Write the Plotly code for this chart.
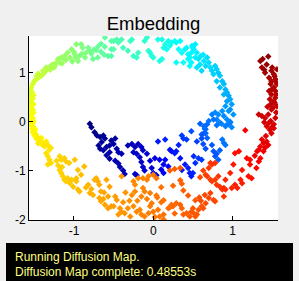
import plotly.graph_objects as go

# ---- data ----
navy_x = [-0.80,-0.78,-0.74,-0.71,-0.67,-0.63,-0.61,-0.65,-0.69,-0.67,-0.63,-0.59,-0.55,-0.53,-0.48,-0.50,-0.55,-0.59,-0.55,-0.48,-0.44,-0.42,-0.38,-0.36,-0.46,-0.44,-0.40,-0.32,-0.27,-0.23,-0.25,-0.21,-0.17,-0.15,-0.13,-0.11,-0.19,-0.15,-0.13,-0.08,-0.23,-0.21,-0.04,-0.02,0.00,0.02,0.04]
navy_y = [-0.05,-0.12,-0.22,-0.29,-0.32,-0.29,-0.35,-0.42,-0.49,-0.56,-0.59,-0.52,-0.49,-0.39,-0.35,-0.46,-0.63,-0.69,-0.76,-0.80,-0.86,-0.93,-1.00,-1.07,-0.56,-0.63,-0.66,-0.49,-0.46,-0.52,-0.63,-0.66,-0.73,-0.83,-0.93,-1.00,-0.46,-0.52,-0.59,-0.66,-1.07,-1.10,-0.80,-0.95,-1.05,-0.75,-1.10]
navy_c = [0.00,0.00,0.01,0.01,0.02,0.02,0.02,0.02,0.02,0.03,0.03,0.03,0.03,0.03,0.03,0.04,0.04,0.04,0.04,0.05,0.05,0.05,0.05,0.06,0.04,0.05,0.05,0.05,0.06,0.06,0.06,0.07,0.07,0.07,0.08,0.08,0.06,0.07,0.07,0.08,0.07,0.07,0.09,0.09,0.10,0.09,0.10]

blue_x = [0.06,0.15,0.08,0.13,0.15,0.19,0.21,0.23,0.27,0.29,0.34,0.32,0.36,0.38,0.42,0.48,0.36,0.40,0.44,0.46,0.48,0.50,0.13,0.10,0.51,0.57,0.53,0.61,0.66,0.59,0.55,0.61,0.63,0.65,0.63,0.61,0.66,0.68,0.74,0.76,0.78,0.80,0.82,0.84,0.87,0.89,0.91,0.80,0.86,0.92,0.97,0.99]
blue_y = [-0.41,-0.37,-0.78,-0.88,-0.78,-0.92,-0.58,-0.61,-0.65,-0.61,-0.75,-0.48,-0.29,-0.35,-0.37,-0.20,-0.99,-0.88,-0.95,-1.05,-1.12,-1.05,-1.05,-0.98,-0.71,-0.75,-0.85,-0.78,-0.56,-0.05,-0.41,-0.27,-0.25,-0.15,-0.46,-0.35,-0.24,-0.34,-0.48,-0.61,-0.71,-0.66,-0.78,-0.59,-0.37,-0.44,-0.48,-0.08,-0.05,-0.08,-0.01,-0.12]
blue_c = [0.15,0.16,0.11,0.11,0.12,0.12,0.14,0.14,0.15,0.15,0.14,0.16,0.18,0.18,0.18,0.20,0.14,0.15,0.15,0.15,0.15,0.16,0.11,0.11,0.17,0.18,0.17,0.18,0.20,0.22,0.19,0.21,0.21,0.22,0.20,0.20,0.22,0.22,0.21,0.21,0.21,0.21,0.22,0.22,0.24,0.24,0.24,0.24,0.25,0.25,0.26,0.26]

side_x = [0.78,0.82,0.87,0.89,0.93,0.95,0.97,0.91,0.84,0.80,0.74,0.76,0.68,0.64,0.66,0.70,
          0.99,0.97,1.01,0.93,0.91,0.89,0.95,0.84,0.80,0.97,0.95,0.93,0.91,0.89,0.87,0.84,0.82,0.80,0.78,0.76,0.74,0.72,0.70,0.68,0.66,0.64,0.61,0.59,0.57,0.55,0.53,0.55,0.51,0.49]
side_y = [0.18,0.14,0.21,0.11,0.04,-0.06,-0.03,-0.10,-0.03,0.04,0.14,0.04,-0.06,-0.10,-0.16,0.01,
          0.35,0.24,0.14,0.41,0.31,0.55,0.21,0.69,0.82,0.45,0.52,0.59,0.65,0.76,0.82,0.93,0.99,1.06,1.13,0.96,1.03,1.10,1.20,1.30,1.13,1.23,1.03,1.16,1.27,1.10,1.30,1.40,1.47,1.54]
side_c = [0.26,0.26,0.27,0.26,0.26,0.25,0.25,0.25,0.25,0.25,0.25,0.24,0.23,0.23,0.23,0.24,
          0.28,0.27,0.27,0.28,0.28,0.30,0.27,0.31,0.32,0.29,0.29,0.30,0.30,0.31,0.31,0.32,0.32,0.33,0.33,0.33,0.33,0.34,0.34,0.34,0.34,0.35,0.34,0.35,0.35,0.35,0.36,0.36,0.36,0.36]

top_x = [-0.50,-0.46,-0.44,-0.40,-0.38,-0.32,-0.29,-0.27,-0.25,-0.21,-0.19,-0.11,-0.08,-0.06,-0.04,-0.02,0.00,0.06,0.11,0.13,0.15,0.17,0.19,0.21,0.23,0.27,0.29,0.32,0.34,0.36,0.40,0.42,0.44,0.44,0.46,0.48,0.50,0.53,0.48,0.46,0.38,0.29,0.11,0.08,-0.53,-0.50,0.60,0.63]
top_y = [1.64,1.67,1.61,1.67,1.50,1.44,1.64,1.67,1.33,1.30,1.40,1.64,1.71,1.44,1.40,1.33,1.30,1.67,1.67,1.50,1.57,1.47,1.64,1.54,1.61,1.64,1.61,1.47,1.64,1.40,1.47,1.50,1.37,1.27,1.30,1.40,1.50,1.57,1.20,1.13,1.20,1.20,1.27,1.23,1.33,1.47,1.33,1.36]
top_c = [0.455,0.45,0.45,0.45,0.44,0.44,0.44,0.43,0.43,0.43,0.43,0.42,0.42,0.42,0.41,0.41,0.41,0.40,0.40,0.40,0.40,0.39,0.39,0.39,0.39,0.39,0.38,0.38,0.38,0.38,0.37,0.37,0.37,0.37,0.37,0.37,0.36,0.36,0.37,0.37,0.38,0.38,0.40,0.40,0.46,0.46,0.355,0.355]

green_x = [-0.61,-0.53,-0.61,-0.53,-0.57,-0.70,-0.76,-0.80,-0.89,-0.91,-0.97,-1.03,-0.99,-0.93,-0.95,-1.08,-1.12,-1.16,-1.20,-1.22,-1.26,-1.31,-1.35,-1.39,-1.41,-1.45,-1.50,-1.52,-1.54,
           -1.30,-1.25,-1.18,-1.10,-1.05,-0.98,-0.90,-0.85,-0.78,-0.72,-0.66,-0.62,-1.45,-1.48,-1.38,-1.28,-1.15,-1.02,-0.86,-0.70,-0.66,-0.75,-1.36,-1.43,-1.47,-1.33,-1.24,-1.13,-1.00,-0.82]
green_y = [1.71,1.64,1.52,1.47,1.33,1.30,1.27,1.44,1.50,1.57,1.57,1.47,1.37,1.33,1.23,1.40,1.33,1.30,1.27,1.20,1.16,1.10,1.10,1.03,0.93,0.89,0.82,0.76,0.69,
           1.05,1.10,1.20,1.25,1.30,1.30,1.38,1.40,1.38,1.45,1.42,1.36,0.97,0.86,0.98,1.15,1.18,1.22,1.30,1.52,1.58,1.46,1.02,0.92,0.93,1.08,1.14,1.28,1.42,1.50]
green_c = [0.47,0.46,0.47,0.46,0.46,0.48,0.48,0.49,0.50,0.50,0.51,0.51,0.51,0.50,0.51,0.52,0.52,0.53,0.53,0.54,0.54,0.55,0.55,0.56,0.57,0.57,0.58,0.58,0.59,
           0.55,0.54,0.53,0.52,0.52,0.51,0.50,0.50,0.49,0.48,0.47,0.47,0.57,0.58,0.56,0.54,0.53,0.51,0.50,0.48,0.47,0.48,0.56,0.57,0.57,0.55,0.54,0.52,0.51,0.49]

yel_x = [-1.55,-1.53,-1.56,-1.54,-1.52,-1.55,-1.53,-1.56,-1.54,-1.52,-1.56,-1.53,-1.55,-1.52,-1.54,-1.56,-1.52,-1.54,-1.51,-1.53,-1.50,-1.52,-1.48,-1.50,-1.46,-1.47,-1.44,-1.42,-1.45,-1.40,
         -1.56,-1.51,-1.55,-1.51,-1.55,-1.51,-1.54,-1.51,-1.55,-1.49,-1.39,-1.35,-1.37,-1.33,-1.31,-1.29,-1.35,-1.33,-1.31,-1.29,-1.33,-1.41,-1.43]
yel_y = [0.65,0.60,0.55,0.50,0.46,0.42,0.37,0.33,0.28,0.24,0.20,0.15,0.11,0.07,0.03,-0.01,-0.04,-0.08,-0.12,-0.15,-0.19,-0.22,-0.26,-0.29,-0.32,-0.36,-0.39,-0.43,-0.45,-0.47,
         0.62,0.53,0.45,0.35,0.25,0.18,0.13,0.00,-0.05,-0.16,-0.44,-0.41,-0.51,-0.48,-0.58,-0.54,-0.65,-0.71,-0.78,-0.85,-0.88,-0.34,-0.41]
yel_c = [0.59,0.595,0.60,0.60,0.60,0.605,0.61,0.61,0.61,0.61,0.615,0.615,0.62,0.62,0.62,0.625,0.625,0.63,0.63,0.63,0.63,0.635,0.635,0.635,0.64,0.64,0.64,0.645,0.645,0.645,
         0.59,0.60,0.60,0.61,0.61,0.615,0.62,0.625,0.625,0.63,0.645,0.645,0.65,0.65,0.65,0.65,0.655,0.655,0.66,0.66,0.66,0.64,0.645]

org_x = [-1.18,-1.16,-1.12,-1.10,-1.18,-1.16,-1.14,-1.12,-1.10,-1.08,-0.99,-0.87,-0.95,-0.91,-0.97,-1.03,-1.05,-1.01,-0.97,-0.95,-0.93,-0.82,-0.80,-0.76,-0.74,-0.72,-0.70,-0.68,-0.66,-0.68,-0.66,-0.61,-0.57,-0.59,-0.55,-0.57,-0.53,-1.20,-1.15,-1.22,-1.06,-0.85,-0.78,-0.62,-0.63]
org_y = [-0.71,-0.78,-0.75,-0.82,-0.99,-1.05,-1.12,-1.19,-1.22,-1.16,-0.78,-0.92,-0.99,-1.09,-1.16,-1.19,-1.26,-1.33,-1.22,-1.39,-1.43,-1.29,-1.46,-1.50,-1.19,-1.16,-1.22,-1.29,-1.43,-1.56,-1.63,-1.70,-1.77,-1.19,-1.33,-1.53,-1.73,-0.90,-0.93,-0.80,-0.85,-1.35,-1.38,-1.45,-1.58]
org_c = [0.667,0.668,0.671,0.673,0.67,0.67,0.672,0.675,0.675,0.675,0.682,0.69,0.685,0.69,0.685,0.68,0.68,0.685,0.685,0.69,0.69,0.695,0.70,0.70,0.70,0.70,0.705,0.705,0.71,0.71,0.71,0.715,0.72,0.71,0.715,0.715,0.72,0.665,0.67,0.663,0.675,0.695,0.70,0.71,0.71]

bot_x = [-0.40,-0.25,-0.23,-0.19,-0.13,-0.08,-0.06,0.00,0.04,-0.13,-0.11,-0.04,-0.15,-0.23,-0.27,-0.48,-0.46,-0.50,-0.42,-0.40,-0.44,-0.36,-0.29,-0.32,-0.25,-0.21,-0.17,-0.15,-0.11,-0.06,-0.04,-0.02,0.00,0.06,0.08,0.13,0.13,0.19,0.23,0.25,0.29,0.34,0.36,0.38,0.42,0.46,0.48,0.50,0.21,0.27,0.34,-0.35,-0.30,-0.38,-0.20,-0.08,0.05,0.10,0.02,
         0.10,0.25,0.34,0.36,0.38,0.44,0.53,0.04,0.13,0.21,0.27,0.63,0.59]
bot_y = [-1.12,-1.22,-1.29,-1.16,-1.16,-1.19,-1.12,-1.09,-1.16,-1.36,-1.43,-1.46,-1.53,-1.43,-1.50,-1.53,-1.60,-1.73,-1.77,-1.84,-1.90,-1.87,-1.94,-1.77,-1.73,-1.84,-1.80,-1.90,-1.94,-1.87,-1.73,-1.67,-1.84,-1.80,-1.94,-1.90,-2.00,-1.77,-1.70,-1.73,-1.67,-1.70,-1.77,-1.90,-1.87,-1.94,-1.84,-1.77,-1.00,-0.97,-0.95,-1.45,-1.62,-1.65,-1.62,-1.58,-1.55,-1.65,-1.95,
         -1.34,-1.31,-1.20,-1.27,-1.41,-1.51,-1.61,-1.51,-1.61,-1.75,-1.88,-1.00,-1.14]
bot_c = [0.727,0.738,0.739,0.742,0.746,0.75,0.751,0.755,0.758,0.746,0.747,0.752,0.745,0.739,0.736,0.72,0.723,0.72,0.726,0.727,0.724,0.73,0.735,0.733,0.738,0.74,0.743,0.745,0.747,0.751,0.752,0.754,0.755,0.76,0.76,0.764,0.764,0.768,0.771,0.773,0.775,0.779,0.78,0.782,0.784,0.787,0.789,0.79,0.78,0.785,0.79,0.73,0.734,0.728,0.741,0.75,0.759,0.762,0.756,
         0.765,0.775,0.78,0.78,0.78,0.785,0.79,0.758,0.765,0.77,0.775,0.81,0.805]

rorg_x = [0.72,0.74,0.78,0.70,0.66,0.68,0.72,0.74,0.78,0.82,0.80,0.84,0.87,0.89,0.76,0.78,0.72,0.70,0.66,0.63,0.61,0.57,0.55,0.53,0.51,0.60,0.65,0.58]
rorg_y = [-0.85,-0.88,-0.85,-0.95,-1.09,-1.12,-1.19,-1.22,-1.19,-1.12,-1.29,-1.33,-1.39,-1.53,-1.60,-1.63,-1.46,-1.56,-1.67,-1.77,-1.73,-1.80,-1.90,-1.94,-1.87,-1.62,-1.50,-1.55]
rorg_c = [0.825,0.825,0.83,0.82,0.815,0.815,0.815,0.815,0.82,0.825,0.82,0.825,0.825,0.82,0.805,0.805,0.81,0.805,0.80,0.795,0.795,0.79,0.79,0.79,0.79,0.80,0.805,0.80]

red_x = [1.47,1.52,1.49,1.37,1.39,1.35,1.33,1.31,1.41,1.39,1.45,1.43,1.35,1.33,1.16,1.08,1.03,1.01,1.18,1.22,1.22,1.12,1.20,1.24,1.10,1.12,1.03,1.06,0.97,0.91,0.89,0.91,0.99,1.28,1.42,1.30]
red_y = [-0.17,-0.14,-0.24,-0.37,-0.44,-0.51,-0.58,-0.61,-0.54,-0.61,-0.48,-0.41,-0.75,-0.82,-0.18,-0.61,-0.65,-0.88,-0.75,-0.78,-0.88,-0.99,-1.12,-1.16,-1.19,-1.26,-1.29,-1.36,-1.05,-1.19,-1.36,-1.39,-1.36,-0.70,-0.30,-0.95]
red_c = [0.91,0.91,0.905,0.895,0.895,0.89,0.89,0.885,0.895,0.89,0.90,0.90,0.88,0.88,0.88,0.865,0.86,0.855,0.87,0.87,0.865,0.855,0.86,0.86,0.85,0.85,0.845,0.845,0.845,0.84,0.835,0.835,0.84,0.885,0.90,0.87]

dred_x = [1.35,1.38,1.43,1.37,1.49,1.52,1.54,1.49,1.48,1.52,1.54,1.49,1.54,1.52,1.48,1.49,1.45,1.41,1.37,1.33,1.48,1.52,1.49,1.43,1.54,1.56,1.56,1.56,1.46,1.41,1.46,
          1.53,1.55,1.50,1.55,1.47,1.51,1.55,1.44,1.50,1.45,1.40,1.53,1.46,1.40]
dred_y = [1.23,1.27,1.16,1.10,1.03,0.96,0.86,0.82,0.76,0.69,0.62,0.55,0.48,0.41,0.35,0.24,0.14,0.07,0.11,0.14,0.01,-0.06,-0.13,-0.10,0.07,0.31,0.76,1.06,0.89,0.99,0.62,
          0.92,0.80,0.66,0.55,0.45,0.28,0.18,0.30,1.10,1.32,1.05,0.38,-0.03,-0.02]
dred_c = [0.98,0.98,0.975,0.97,0.965,0.965,0.96,0.955,0.955,0.95,0.95,0.945,0.94,0.94,0.935,0.93,0.925,0.92,0.92,0.92,0.915,0.91,0.91,0.91,0.92,0.93,0.955,0.97,0.96,0.965,0.95,
          0.96,0.955,0.95,0.945,0.94,0.93,0.925,0.93,0.97,0.985,0.97,0.935,0.915,0.915]

x_ticks = [-1, 0, 1]
y_ticks = [-2, -1, 0, 1]
title_text = "Embedding"
status_lines = ["Running Diffusion Map.", "Diffusion Map complete: 0.48553s"]

xs = navy_x + blue_x + side_x + top_x + green_x + yel_x + org_x + bot_x + rorg_x + red_x + dred_x
ys = navy_y + blue_y + side_y + top_y + green_y + yel_y + org_y + bot_y + rorg_y + red_y + dred_y
cs = navy_c + blue_c + side_c + top_c + green_c + yel_c + org_c + bot_c + rorg_c + red_c + dred_c

jet = [[0.0, "rgb(0,0,128)"], [0.125, "rgb(0,0,255)"], [0.375, "rgb(0,255,255)"],
       [0.625, "rgb(255,255,0)"], [0.875, "rgb(255,0,0)"], [1.0, "rgb(128,0,0)"]]

W, H = 299, 281
L, R, T, B = 29, 278, 36, 220  # plot area in pixels

def px(x):
    return (x - L) / (R - L)

def py(y):
    return (B - y) / (B - T)

fig = go.Figure()
fig.add_trace(go.Scatter(
    x=xs, y=ys, mode="markers",
    marker=dict(symbol="diamond", size=5, color=cs, colorscale=jet, cmin=0, cmax=1,
                line=dict(width=0)),
    hoverinfo="skip", showlegend=False))

axis_common = dict(showgrid=False, zeroline=False, showline=True, linecolor="black",
                   linewidth=1, ticks="inside", ticklen=4, tickcolor="black",
                   tickfont=dict(family="Liberation Sans, Arial, sans-serif", size=12, color="black"),
                   mirror=False)

fig.update_layout(
    width=W, height=H, autosize=False,
    margin=dict(l=L, r=W - R, t=T, b=H - B, pad=0),
    paper_bgcolor="#f0f0f0", plot_bgcolor="white",
    xaxis=dict(range=[-1.567, 1.573], tickvals=x_ticks, ticktext=[str(v) for v in x_ticks], **axis_common),
    yaxis=dict(range=[-2.01, 1.74], tickvals=y_ticks, ticktext=[str(v) for v in y_ticks], **axis_common),
    title=dict(text=title_text, x=0.5, xref="paper", xanchor="center",
               y=1 - 24 / H, yref="container", yanchor="middle",
               font=dict(family="Liberation Sans, Arial, sans-serif", size=18.5, color="black")),
    shapes=[dict(type="rect", xref="paper", yref="paper",
                 x0=px(6), x1=px(293), y0=py(281), y1=py(243),
                 fillcolor="black", line=dict(width=0), layer="above")],
    annotations=[
        dict(text=status_lines[0], xref="paper", yref="paper", x=px(13), y=py(257),
             xanchor="left", yanchor="middle", showarrow=False,
             font=dict(family="Liberation Sans, Arial, sans-serif", size=12, color="#ffff80")),
        dict(text=status_lines[1], xref="paper", yref="paper", x=px(13), y=py(272),
             xanchor="left", yanchor="middle", showarrow=False,
             font=dict(family="Liberation Sans, Arial, sans-serif", size=12, color="#ffff80")),
    ],
)

fig.write_html("out.html")
